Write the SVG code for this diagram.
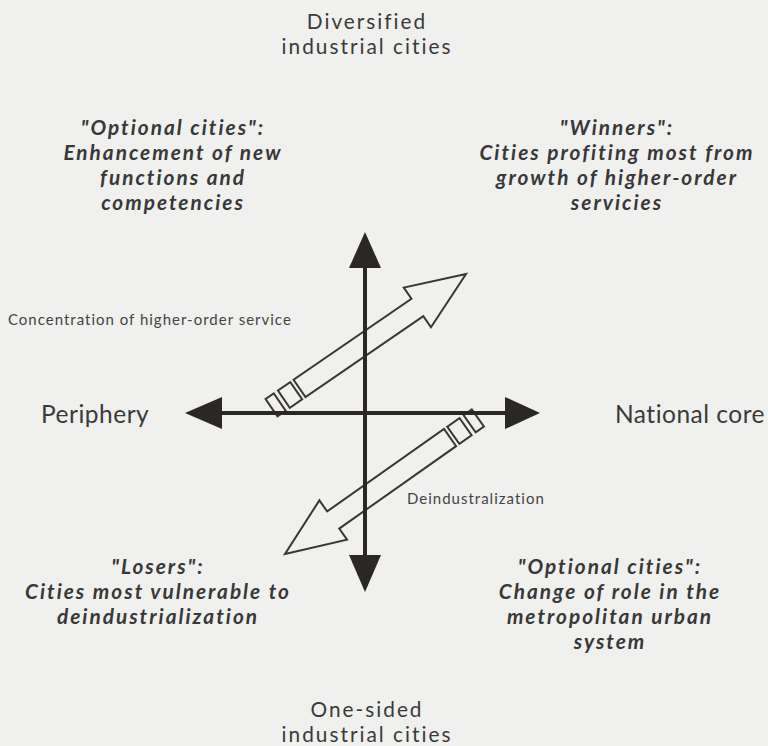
<svg xmlns="http://www.w3.org/2000/svg" width="768" height="746" viewBox="0 0 768 746">
  <style>
    .bg { fill: #f0f0ee; }
    .axis { stroke: #2b2727; stroke-width: 4; fill: none; }
    .head { fill: #2b2727; }
    .hollow { fill: none; stroke: #3a3636; stroke-width: 2; stroke-linejoin: miter; }
    .pole { font-family: Lato, "Open Sans", sans-serif; font-size: 20.8px; fill: #3a3a3a; text-anchor: middle; letter-spacing: 2px; }
    .side { font-family: Lato, "Open Sans", sans-serif; font-size: 24.5px; fill: #3a3a3a; letter-spacing: 0.5px; }
    .quad { font-family: Lato, "Open Sans", sans-serif; font-size: 20.8px; font-weight: bold; font-style: italic; fill: #383838; text-anchor: middle; letter-spacing: 2px; }
    .note { font-family: Lato, "Open Sans", sans-serif; font-size: 15px; fill: #444; letter-spacing: 1px; }
  </style>
  <defs>
    <!-- open block arrow, tip at the origin pointing along +x -->
    <g id="blockArrow">
      <path class="hollow" d="M0,0 L-59,-24 L-59,-10.5 L-202,-10.5 L-202,10.5 L-59,10.5 L-59,24 Z"/>
      <rect class="hollow" x="-221" y="-10.5" width="15" height="21"/>
      <rect class="hollow" x="-236" y="-10.5" width="10" height="21"/>
    </g>
  </defs>

  <rect class="bg" x="0" y="0" width="768" height="746"/>

  <!-- trend arrows -->
  <g id="connectors">
    <use id="arrow-services" href="#blockArrow" transform="translate(466,274) rotate(-34.5)"/>
    <use id="arrow-deindustrialization" href="#blockArrow" transform="translate(285,554) rotate(144.8)"/>
  </g>

  <!-- axes -->
  <g id="axes">
    <line class="axis" x1="220" y1="413" x2="507" y2="413"/>
    <line class="axis" x1="365" y1="266" x2="365" y2="557"/>
    <polygon class="head" points="185,413 222,397 222,429"/>
    <polygon class="head" points="540,413 505,397 505,429"/>
    <polygon class="head" points="365,232 349,268 381,268"/>
    <polygon class="head" points="365,592 349,555 381,555"/>
  </g>

  <g id="pole-top">
    <text class="pole" x="367" y="29">Diversified</text>
    <text class="pole" x="367" y="54">industrial cities</text>
  </g>
  <g id="pole-bottom">
    <text class="pole" x="367" y="717">One-sided</text>
    <text class="pole" x="367" y="742">industrial cities</text>
  </g>
  <g id="pole-left">
    <text class="side" x="41" y="423">Periphery</text>
  </g>
  <g id="pole-right">
    <text class="side" x="615" y="423">National core</text>
  </g>

  <g id="quadrant-upper-left">
    <text class="quad" x="173" y="135">"Optional cities":</text>
    <text class="quad" x="173" y="160">Enhancement of new</text>
    <text class="quad" x="173" y="185">functions and</text>
    <text class="quad" x="173" y="210">competencies</text>
  </g>
  <g id="quadrant-upper-right">
    <text class="quad" x="617" y="135">"Winners":</text>
    <text class="quad" x="617" y="160">Cities profiting most from</text>
    <text class="quad" x="617" y="185">growth of higher-order</text>
    <text class="quad" x="617" y="210">servicies</text>
  </g>
  <g id="quadrant-lower-left">
    <text class="quad" x="158" y="574">"Losers":</text>
    <text class="quad" x="158" y="599">Cities most vulnerable to</text>
    <text class="quad" x="158" y="624">deindustrialization</text>
  </g>
  <g id="quadrant-lower-right">
    <text class="quad" x="610" y="574">"Optional cities":</text>
    <text class="quad" x="610" y="599">Change of role in the</text>
    <text class="quad" x="610" y="624">metropolitan urban</text>
    <text class="quad" x="610" y="649">system</text>
  </g>

  <g id="label-services">
    <text class="note" x="8" y="325">Concentration of higher-order service</text>
  </g>
  <g id="label-deindustrialization">
    <text class="note" x="407" y="504">Deindustralization</text>
  </g>
</svg>
